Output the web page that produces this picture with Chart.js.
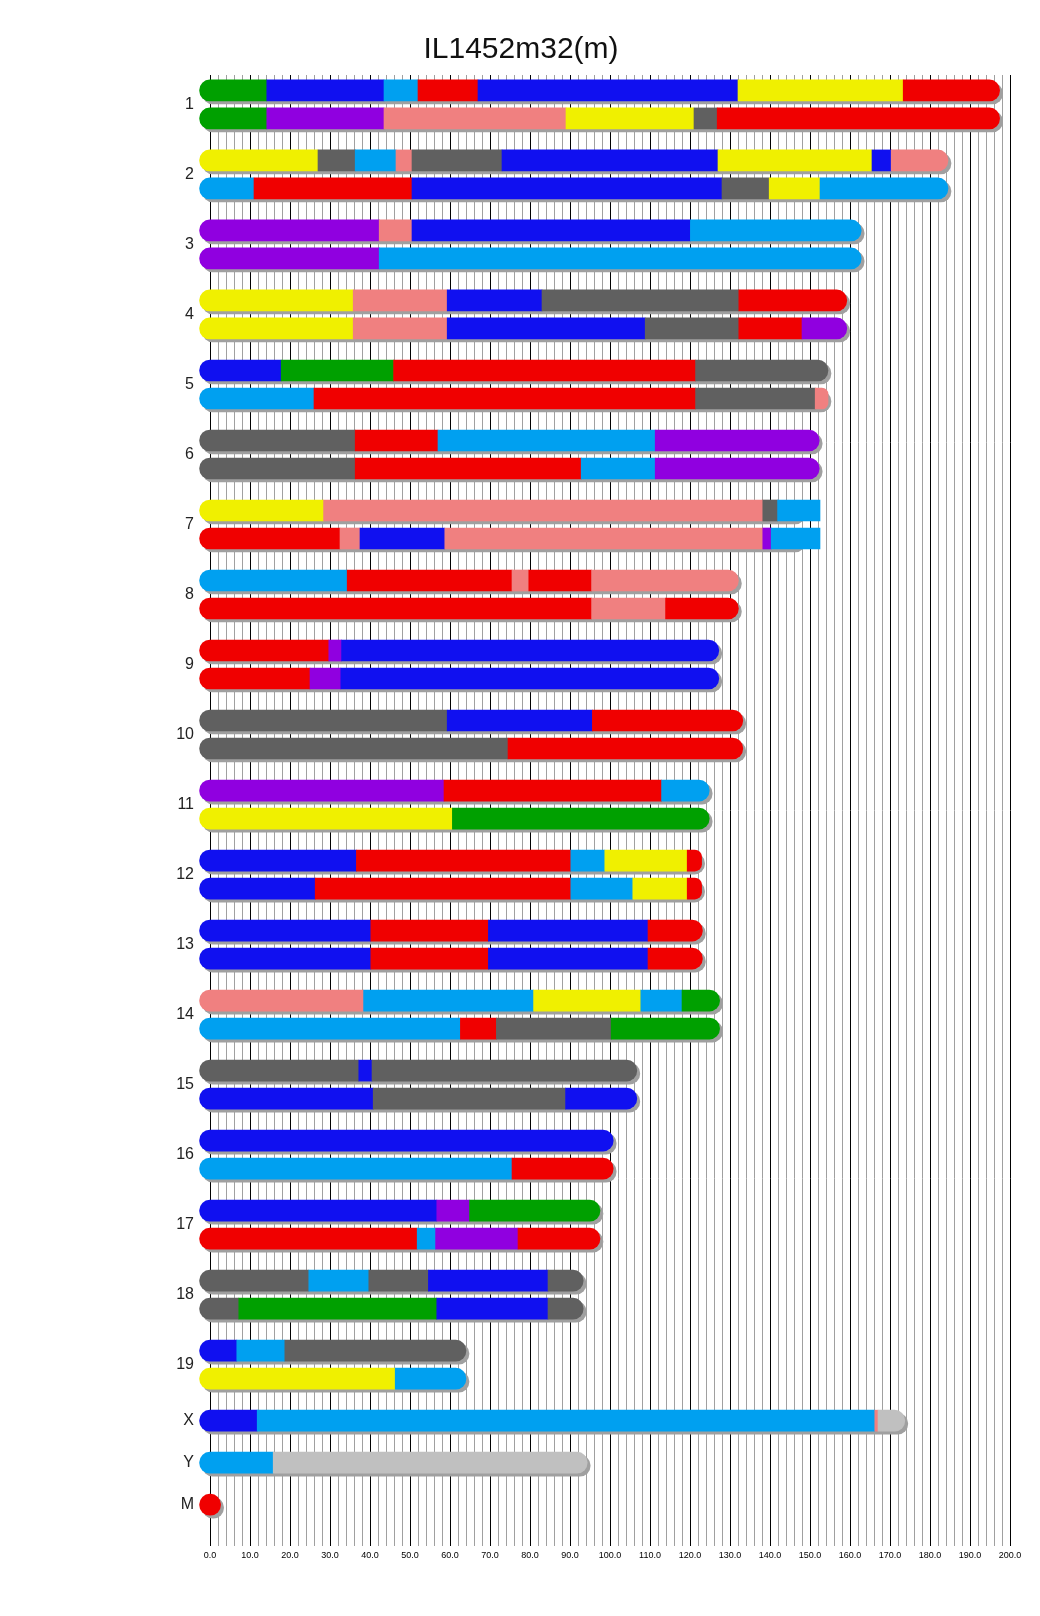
<!DOCTYPE html>
<html>
<head>
<meta charset="utf-8">
<script src="https://cdn.jsdelivr.net/npm/chart.js@4.4.1/dist/chart.umd.min.js"></script>
<style>
  html, body { margin: 0; padding: 0; background: #fff; }
  #wrap { width: 1040px; height: 1616px; }
</style>
</head>
<body>
<div id="wrap"><canvas id="karyo"></canvas></div>
<script>
const chromosomes = ["1", "2", "3", "4", "5", "6", "7", "8", "9", "10",
  "11", "12", "13", "14", "15", "16", "17", "18", "19", "X", "Y", "M"];

// chromosome length in Mb
const lengths = [194.8, 181.9, 160.2, 156.6, 151.9, 149.7, 145.5, 129.5, 124.6, 130.6,
  122.2, 120.3, 120.5, 124.8, 104.1, 98.2, 94.9, 90.7, 61.4, 171.1, 91.7, 0.05];

// each bar: [segment end (Mb), strain colour]
const upperBars = [
  [[14.2, "G"], [43.5, "B"], [52, "C"], [67, "R"], [132, "B"], [173.3, "Y"], [194.8, "R"]],
  [[27, "Y"], [36.3, "D"], [46.5, "C"], [50.5, "K"], [73, "D"], [127, "B"], [165.5, "Y"], [170.3, "B"], [181.9, "K"]],
  [[42.3, "P"], [50.5, "K"], [120.1, "B"], [160.2, "C"]],
  [[35.8, "Y"], [59.3, "K"], [83, "B"], [132.2, "D"], [156.6, "R"]],
  [[17.8, "B"], [45.9, "G"], [121.4, "R"], [151.9, "D"]],
  [[36.3, "D"], [57, "R"], [111.3, "C"], [149.7, "P"]],
  [[28.4, "Y"], [138.2, "K"], [141.9, "D"], [152.5, "C"]],
  [[34.3, "C"], [75.5, "R"], [79.7, "K"], [95.4, "R"], [129.5, "K"]],
  [[29.7, "R"], [32.9, "P"], [124.6, "B"]],
  [[59.3, "D"], [95.6, "B"], [130.6, "R"]],
  [[58.5, "P"], [112.9, "R"], [122.2, "C"]],
  [[36.6, "B"], [90.2, "R"], [98.7, "C"], [119.3, "Y"], [120.3, "R"]],
  [[40.2, "B"], [69.6, "R"], [109.5, "B"], [120.5, "R"]],
  [[38.4, "K"], [80.9, "C"], [107.7, "Y"], [118, "C"], [124.8, "G"]],
  [[37.2, "D"], [40.5, "B"], [104.1, "D"]],
  [[98.2, "B"]],
  [[56.7, "B"], [64.9, "P"], [94.9, "G"]],
  [[24.7, "D"], [39.7, "C"], [54.6, "D"], [84.5, "B"], [90.7, "D"]],
  [[6.7, "B"], [18.7, "C"], [61.4, "D"]],
  [[11.8, "B"], [166.2, "C"], [167, "K"], [171.1, "L"]],
  [[15.8, "C"], [91.7, "L"]],
  [[0.05, "R"]]
];

const lowerBars = [
  [[14.2, "G"], [43.5, "P"], [89, "K"], [121, "Y"], [126.8, "D"], [194.8, "R"]],
  [[11, "C"], [50.5, "R"], [128, "B"], [139.8, "D"], [152.5, "Y"], [181.9, "C"]],
  [[42.3, "P"], [160.2, "C"]],
  [[35.8, "Y"], [59.3, "K"], [108.8, "B"], [132.2, "D"], [148, "R"], [156.6, "P"]],
  [[26, "C"], [121.4, "R"], [151.3, "D"], [151.9, "K"]],
  [[36.3, "D"], [92.8, "R"], [111.3, "C"], [149.7, "P"]],
  [[32.5, "R"], [37.5, "K"], [58.7, "B"], [138.2, "K"], [140.3, "P"], [152.5, "C"]],
  [[95.4, "R"], [113.9, "K"], [129.5, "R"]],
  [[25, "R"], [32.7, "P"], [124.6, "B"]],
  [[74.5, "D"], [130.6, "R"]],
  [[60.6, "Y"], [122.2, "G"]],
  [[26.3, "B"], [90.2, "R"], [105.7, "C"], [119.3, "Y"], [120.3, "R"]],
  [[40.2, "B"], [69.6, "R"], [109.5, "B"], [120.5, "R"]],
  [[62.6, "C"], [71.6, "R"], [100.3, "D"], [124.8, "G"]],
  [[40.8, "B"], [88.9, "D"], [104.1, "B"]],
  [[75.5, "C"], [98.2, "R"]],
  [[51.8, "R"], [56.4, "C"], [77, "P"], [94.9, "R"]],
  [[7.2, "D"], [56.7, "G"], [84.5, "B"], [90.7, "D"]],
  [[46.3, "Y"], [61.4, "C"]],
  null, null, null
];

const palette = {
  G: "#00a000", B: "#1010f0", C: "#00a0f0", R: "#f00000", Y: "#f0f000",
  P: "#9000e0", K: "#f08080", D: "#606060", L: "#c0c0c0"
};

const CAP = 2.6;   // rounded end, in Mb
const RADIUS = 11;

// rows: 4 units between the two bars of a pair, 6 units to the next chromosome
const segments = [];
const shadows = [];
const labelPos = [];
let pos = 0;
chromosomes.forEach((name, i) => {
  const bars = lowerBars[i] ? [upperBars[i], lowerBars[i]] : [upperBars[i]];
  bars.forEach((bar, j) => {
    const y = pos + j * 4;
    let start = 0;
    bar.forEach(([end, c], k) => {
      const first = k === 0;
      const capped = k === bar.length - 1 && end <= lengths[i] + 0.01;
      segments.push({
        x: [first ? -CAP : start, capped ? end + CAP : end],
        y: y,
        color: palette[c],
        r: {
          topLeft: first ? RADIUS : 0, bottomLeft: first ? RADIUS : 0,
          topRight: capped ? RADIUS : 0, bottomRight: capped ? RADIUS : 0
        }
      });
      start = end;
    });
    shadows.push({ x: [-CAP, lengths[i] + CAP], y: y });
  });
  labelPos.push(pos + (bars.length - 1) * 2);
  pos += (bars.length - 1) * 4 + 6;
});

// draw the shadow dataset shifted down/right
const shadowShift = {
  id: "shadowShift",
  beforeDatasetDraw(chart, args) {
    if (args.index === 1) {
      chart.ctx.save();
      chart.ctx.translate(3, 3);
    }
  },
  afterDatasetDraw(chart, args) {
    if (args.index === 1) chart.ctx.restore();
  }
};

const barOpts = {
  grouped: false,
  barThickness: 21,
  maxBarThickness: 21,
  barPercentage: 1,
  categoryPercentage: 1,
  borderWidth: 0,
  borderSkipped: false,
  clip: false
};

new Chart(document.getElementById("karyo"), {
  type: "bar",
  data: {
    datasets: [
      Object.assign({
        data: segments,
        order: 0,
        backgroundColor: (ctx) => (ctx.raw ? ctx.raw.color : "#000"),
        borderRadius: (ctx) => (ctx.raw ? ctx.raw.r : 0)
      }, barOpts),
      Object.assign({
        data: shadows,
        order: 1,
        backgroundColor: "#a0a0a0",
        borderRadius: RADIUS
      }, barOpts)
    ]
  },
  plugins: [shadowShift],
  options: {
    indexAxis: "y",
    responsive: true,
    maintainAspectRatio: false,
    animation: false,
    layout: { padding: { left: 32, right: 30, top: 0, bottom: 0 } },
    plugins: {
      legend: { display: false },
      tooltip: { enabled: false },
      title: {
        display: true,
        text: "IL1452m32(m)",
        color: "#111",
        font: { family: "'Liberation Sans', Arial, sans-serif", size: 30, weight: "normal" },
        padding: { top: 32, bottom: 7 }
      }
    },
    scales: {
      x: {
        type: "linear",
        position: "bottom",
        min: 0,
        max: 200,
        offset: false,
        border: { display: false },
        grid: {
          drawTicks: false,
          lineWidth: 1,
          color: (ctx) => (ctx.tick && Math.round(ctx.tick.value) % 10 === 0 ? "#000" : "#a0a0a0")
        },
        ticks: {
          stepSize: 2,
          autoSkip: false,
          maxTicksLimit: 1000,
          maxRotation: 0,
          minRotation: 0,
          padding: 4,
          color: "#000",
          font: { family: "'Liberation Sans', Arial, sans-serif", size: 9 },
          callback: (v) => (Math.round(v) % 10 === 0 ? Number(v).toFixed(1) : "")
        },
        afterFit: (axis) => { axis.height = 70; }
      },
      y: {
        type: "linear",
        reverse: true,
        offset: false,
        min: -2.2,
        max: 207.9,
        border: { display: false },
        grid: { display: false, offset: false },
        afterBuildTicks: (axis) => { axis.ticks = labelPos.map((v) => ({ value: v })); },
        ticks: {
          autoSkip: false,
          padding: 8,
          color: "#222",
          font: { family: "'Liberation Sans', Arial, sans-serif", size: 16 },
          callback: (v, i) => chromosomes[i]
        },
        afterFit: (axis) => { axis.width = 178; }
      }
    }
  }
});
</script>
</body>
</html>
